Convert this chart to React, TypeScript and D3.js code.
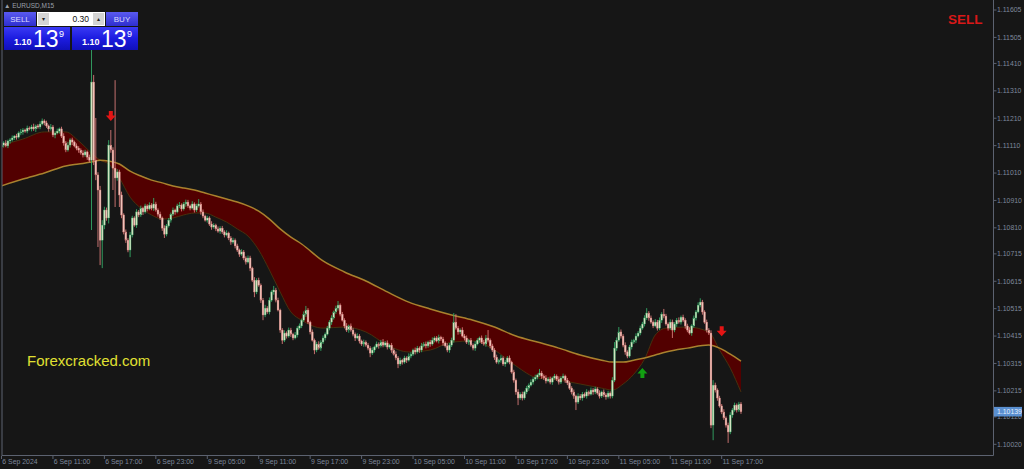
import React, { useEffect } from "react";
import * as d3 from "d3";

const W = 1024;
const H = 469;

// Close prices in points above 1.10000 (one value per M15 bar)
const closes = [
  1112, 1120, 1109, 1127, 1131, 1138, 1145, 1141, 1156, 1160,
  1167, 1163, 1174, 1171, 1178, 1171, 1182, 1178, 1189, 1200,
  1193, 1182, 1171, 1178, 1149, 1156, 1163, 1171, 1145, 1120,
  1094, 1112, 1131, 1123, 1109, 1101, 1094, 1083, 1076, 1087,
  1068, 1057, 1342, 1057, 1003, 948, 765, 820, 875, 846,
  1112, 1094, 1028, 992, 1014, 930, 857, 795, 765, 729,
  784, 846, 820, 868, 857, 882, 868, 890, 879, 893,
  882, 897, 875, 860, 846, 809, 787, 817, 838, 860,
  875, 868, 890, 893, 879, 897, 904, 890, 882, 897,
  875, 890, 897, 868, 853, 838, 846, 824, 813, 820,
  806, 798, 809, 795, 784, 791, 773, 758, 765, 744,
  729, 714, 722, 700, 685, 700, 663, 619, 576, 619,
  601, 546, 492, 517, 503, 546, 576, 583, 546, 510,
  437, 400, 426, 415, 437, 422, 408, 419, 444, 452,
  473, 495, 510, 466, 430, 400, 364, 386, 371, 393,
  408, 422, 444, 466, 481, 503, 517, 528, 495, 473,
  452, 437, 452, 437, 422, 408, 415, 397, 386, 393,
  382, 371, 353, 364, 375, 386, 379, 393, 382, 390,
  375, 382, 364, 349, 335, 313, 327, 320, 335, 327,
  342, 349, 364, 357, 371, 364, 379, 386, 379, 393,
  386, 400, 408, 397, 411, 404, 390, 379, 364, 382,
  400, 466, 444, 430, 437, 415, 408, 393, 400, 382,
  371, 386, 400, 408, 393, 386, 408, 400, 379, 364,
  338, 320, 327, 335, 313, 320, 335, 320, 284, 254,
  211, 189, 203, 189, 211, 225, 236, 247, 258, 265,
  273, 280, 269, 262, 251, 258, 247, 262, 269, 258,
  247, 262, 269, 254, 244, 225, 211, 196, 174, 196,
  189, 203, 196, 211, 203, 218, 211, 222, 207, 196,
  211, 200, 193, 207, 196, 254, 371, 400, 430, 415,
  382, 357, 342, 375, 393, 400, 415, 426, 444, 459,
  481, 499, 481, 466, 452, 466, 444, 473, 495, 488,
  459, 444, 466, 437, 459, 473, 466, 484, 473, 452,
  437, 426, 452, 481, 503, 528, 539, 503, 466, 437,
  426, 90, 236, 218, 189, 160, 138, 116, 90, 65,
  127, 145, 163, 145, 167, 139,
];
const firstOpen = 1105;

// Upper / lower wick lengths in points
const wickUp = [
  8, 6, 10, 5, 7, 9, 4, 8, 6, 11,
  7, 5, 9, 6, 8, 12, 5, 7, 10, 9,
  6, 8, 5, 11, 7, 6, 9, 5, 8, 10,
  7, 12, 6, 8, 5, 9, 7, 6, 10, 8,
  5, 9, 124, 26, 154, 10, 15, 18, 12, 9,
  18, 55, 10, 321, 10, 8, 12, 6, 9, 7,
  11, 8, 6, 10, 7, 9, 5, 8, 6, 10,
  7, 22, 8, 6, 9, 5, 10, 7, 8, 6,
  9, 5, 8, 11, 6, 7, 9, 8, 5, 10,
  6, 8, 18, 7, 9, 5, 8, 6, 10, 7,
  5, 9, 7, 8, 6, 10, 5, 7, 9, 6,
  8, 5, 10, 7, 6, 9, 8, 5, 11, 7,
  9, 6, 8, 12, 7, 10, 6, 15, 8, 9,
  5, 7, 10, 6, 9, 8, 5, 11, 7, 9,
  6, 10, 15, 7, 5, 9, 6, 8, 10, 7,
  9, 6, 8, 7, 10, 5, 9, 15, 6, 8,
  7, 10, 5, 9, 8, 6, 10, 7, 5, 9,
  6, 8, 7, 10, 5, 9, 6, 8, 11, 7,
  9, 5, 8, 6, 10, 7, 9, 5, 8, 6,
  10, 7, 5, 9, 8, 6, 11, 7, 9, 5,
  8, 10, 6, 7, 9, 5, 8, 6, 10, 7,
  9, 33, 29, 8, 6, 10, 7, 9, 5, 8,
  6, 10, 7, 5, 9, 8, 11, 29, 6, 8,
  7, 9, 5, 10, 6, 8, 7, 9, 5, 8,
  6, 10, 7, 9, 5, 8, 6, 10, 7, 9,
  5, 15, 8, 6, 10, 7, 9, 5, 8, 6,
  10, 7, 9, 5, 8, 6, 7, 9, 5, 10,
  7, 8, 6, 10, 5, 9, 7, 8, 6, 10,
  5, 9, 7, 8, 6, 11, 22, 10, 18, 9,
  7, 10, 6, 8, 9, 5, 10, 7, 9, 8,
  10, 18, 7, 9, 6, 11, 8, 10, 7, 19,
  8, 6, 10, 9, 7, 8, 10, 6, 9, 7,
  8, 10, 6, 9, 7, 10, 14, 8, 6, 9,
  7, 10, 18, 9, 6, 8, 7, 10, 6, 9,
  10, 7, 9, 6, 8, 7,
];
const wickDn = [
  6, 9, 5, 8, 10, 6, 7, 9, 5, 8,
  10, 6, 8, 5, 9, 7, 11, 6, 8, 5,
  9, 7, 10, 6, 8, 12, 5, 9, 7, 10,
  8, 6, 9, 11, 5, 8, 10, 6, 9, 7,
  10, 8, 255, 18, 19, 208, 91, 102, 15, 10,
  20, 10, 80, 106, 10, 44, 12, 9, 10, 8,
  26, 9, 6, 10, 8, 7, 11, 6, 9, 5,
  8, 10, 6, 9, 7, 10, 14, 8, 6, 9,
  7, 10, 5, 8, 9, 6, 10, 7, 8, 5,
  9, 7, 6, 10, 8, 5, 9, 7, 10, 6,
  8, 6, 10, 7, 9, 5, 8, 10, 6, 9,
  7, 10, 6, 8, 9, 5, 11, 7, 19, 8,
  6, 10, 19, 8, 7, 9, 6, 10, 8, 5,
  10, 14, 7, 9, 6, 10, 8, 5, 9, 7,
  8, 6, 10, 7, 9, 5, 15, 8, 6, 10,
  7, 9, 5, 8, 10, 6, 7, 9, 8, 5,
  9, 7, 10, 6, 8, 11, 5, 9, 7, 10,
  6, 8, 15, 7, 9, 5, 10, 6, 8, 7,
  9, 6, 10, 5, 8, 15, 7, 9, 6, 10,
  5, 8, 7, 9, 6, 10, 8, 5, 9, 7,
  10, 6, 8, 5, 9, 7, 11, 6, 8, 10,
  7, 9, 6, 10, 8, 5, 9, 7, 10, 6,
  8, 10, 5, 9, 7, 6, 10, 8, 9, 7,
  10, 6, 8, 9, 7, 10, 5, 8, 6, 9,
  10, 26, 7, 9, 6, 8, 10, 5, 9, 7,
  8, 6, 10, 7, 9, 5, 8, 10, 6, 7,
  9, 7, 5, 10, 8, 6, 9, 10, 29, 7,
  8, 10, 6, 9, 7, 5, 10, 8, 6, 9,
  7, 8, 10, 6, 9, 8, 7, 10, 6, 9,
  8, 10, 8, 6, 9, 7, 10, 5, 8, 6,
  9, 7, 10, 6, 8, 5, 9, 7, 10, 8,
  6, 9, 7, 29, 8, 10, 6, 9, 7, 10,
  8, 6, 10, 7, 9, 5, 8, 10, 6, 9,
  7, 11, 55, 9, 10, 6, 8, 7, 9, 40,
  8, 10, 6, 9, 7, 8,
];

// Moving averages (points above 1.10000) read at these bar indices
const maIdx = [0, 10, 20, 30, 36, 42, 46, 50, 55, 60, 65, 70, 75, 80, 85, 90, 95, 100, 105, 110, 115, 120, 125, 130, 135, 140, 150, 160, 170, 180, 190, 200, 210, 220, 230, 240, 250, 260, 270, 280, 285, 290, 295, 300, 305, 310, 320, 330, 335, 340, 345];
const slowMA = [963, 988, 1010, 1036, 1043, 1050, 1057, 1054, 1043, 1017, 999, 984, 974, 963, 955, 948, 937, 926, 915, 904, 890, 871, 842, 806, 776, 751, 689, 649, 616, 576, 539, 514, 492, 473, 448, 415, 393, 371, 346, 327, 320, 320, 327, 335, 346, 357, 371, 382, 371, 349, 324];
const fastMA = [1112, 1134, 1160, 1160, 1127, 1083, 1057, 1043, 992, 922, 882, 857, 842, 846, 857, 864, 864, 849, 831, 806, 780, 729, 656, 576, 503, 473, 444, 448, 430, 382, 357, 364, 393, 397, 364, 306, 262, 254, 240, 225, 218, 240, 276, 331, 419, 444, 448, 430, 364, 298, 211];

const yTickLabels = ["1.11605", "1.11505", "1.11410", "1.11310", "1.11210", "1.11110", "1.11010", "1.10910", "1.10810", "1.10715", "1.10615", "1.10515", "1.10415", "1.10315", "1.10215", "1.10120", "1.10020"];
const timeTickIdx = [0, 24, 48, 72, 96, 120, 144, 168, 192, 216, 240, 264, 288, 312, 336];
const timeTickLabels = ["6 Sep 2024", "6 Sep 11:00", "6 Sep 17:00", "6 Sep 23:00", "9 Sep 05:00", "9 Sep 11:00", "9 Sep 17:00", "9 Sep 23:00", "10 Sep 05:00", "10 Sep 11:00", "10 Sep 17:00", "10 Sep 23:00", "11 Sep 05:00", "11 Sep 11:00", "11 Sep 17:00"];

const signalIdx = [51, 299, 336];
const signalPts = [1218, 280, 433];
const signalDir = ["down", "up", "down"];

const lastPriceLabel = "1.10139";
const symbolLabel = "EURUSD,M15";
const lotLabel = "0.30";

const toPrice = (v: number) => 1.1 + v / 100000;

const FONT = "'Liberation Sans', Arial, sans-serif";

export default function App() {
  useEffect(() => {
    document.body.style.margin = "0";
    document.body.style.background = "#161616";
  }, []);

  const x = d3.scaleLinear().domain([0, 336]).range([1.5, 721.7]);
  const y = d3.scaleLinear().domain([1.1002, 1.11605]).range([444.3, 10]);

  const bars = closes.map((c, i) => {
    const o = i === 0 ? firstOpen : closes[i - 1];
    const hi = Math.max(o, c) + wickUp[i];
    const lo = Math.min(o, c) - wickDn[i];
    return { i, o, c, hi, lo, up: c >= o };
  });

  const band = d3
    .area<number>()
    .x((k) => x(maIdx[k]))
    .y0((k) => y(toPrice(slowMA[k])))
    .y1((k) => y(toPrice(fastMA[k])))
    .curve(d3.curveMonotoneX);
  const slowLine = d3
    .line<number>()
    .x((k) => x(maIdx[k]))
    .y((k) => y(toPrice(slowMA[k])))
    .curve(d3.curveMonotoneX);
  const fastLine = d3
    .line<number>()
    .x((k) => x(maIdx[k]))
    .y((k) => y(toPrice(fastMA[k])))
    .curve(d3.curveMonotoneX);
  const ks = maIdx.map((_, k) => k);

  const arrowDown = "M-2,-5 L2,-5 L2,-0.5 L5,-0.5 L0,5 L-5,-0.5 L-2,-0.5 Z";
  const arrowUp = "M-2,5 L2,5 L2,0.5 L5,0.5 L0,-5 L-5,0.5 L-2,0.5 Z";

  const lastY = y(toPrice(closes[closes.length - 1]));

  return (
    <svg
      width={W}
      height={H}
      style={{ position: "fixed", left: 0, top: 0, display: "block", background: "#161616" }}
      fontFamily={FONT}
    >
      <defs>
        <clipPath id="plot">
          <rect x={2} y={0} width={991} height={455} />
        </clipPath>
        <linearGradient id="btn" x1="0" y1="0" x2="0" y2="1">
          <stop offset="0" stopColor="#5a5af0" />
          <stop offset="1" stopColor="#2e2ed0" />
        </linearGradient>
        <linearGradient id="pbox" x1="0" y1="0" x2="0" y2="1">
          <stop offset="0" stopColor="#3a3af4" />
          <stop offset="0.5" stopColor="#1c1ce0" />
          <stop offset="1" stopColor="#1010b8" />
        </linearGradient>
      </defs>
      <rect x={0} y={0} width={W} height={H} fill="#161616" />

      <g clipPath="url(#plot)">
        <path d={band(ks) || ""} fill="#520000" />
        <path d={fastLine(ks) || ""} fill="none" stroke="#47300e" strokeWidth={1} />
        <path d={slowLine(ks) || ""} fill="none" stroke="#a9822e" strokeWidth={1.5} />

        {bars.map((b) => {
          const cx = x(b.i);
          const yo = y(toPrice(b.o));
          const yc = y(toPrice(b.c));
          const top = Math.min(yo, yc);
          const h = Math.max(Math.abs(yo - yc), 0.8);
          const wick = b.up ? "#34a866" : "#d67a78";
          const body = b.up ? "#d0e4c0" : "#f0c4ba";
          return (
            <g key={b.i}>
              <line
                x1={cx}
                x2={cx}
                y1={y(toPrice(b.hi))}
                y2={y(toPrice(b.lo))}
                stroke={wick}
                strokeWidth={0.9}
              />
              <rect x={cx - 0.9} y={top} width={1.8} height={h} fill={body} stroke={wick} strokeWidth={0.35} />
            </g>
          );
        })}

        {signalIdx.map((si, k) => (
          <path
            key={k}
            d={signalDir[k] === "down" ? arrowDown : arrowUp}
            transform={`translate(${x(si)},${y(toPrice(signalPts[k]))})`}
            fill={signalDir[k] === "down" ? "#e41414" : "#12a012"}
          />
        ))}
      </g>

      {/* frame */}
      <line x1={2} x2={2} y1={0} y2={455} stroke="#5c6270" strokeWidth={1} />
      <line x1={2} x2={993.5} y1={455.5} y2={455.5} stroke="#5c6270" strokeWidth={1} />
      <line x1={993.5} x2={993.5} y1={0} y2={455.5} stroke="#5c6270" strokeWidth={1} />

      {/* price axis */}
      {yTickLabels.map((t) => {
        const ty = y(parseFloat(t));
        return (
          <g key={t}>
            <line x1={993.5} x2={996.5} y1={ty} y2={ty} stroke="#5c6270" strokeWidth={1} />
            <text x={997} y={ty} dy="0.35em" fontSize={6.9} fill="#7e889c">
              {t}
            </text>
          </g>
        );
      })}
      <rect x={994} y={lastY - 4.8} width={28} height={9.6} fill="#5a8fd0" />
      <text x={997} y={lastY} dy="0.35em" fontSize={6.9} fill="#e6eefc">
        {lastPriceLabel}
      </text>

      {/* time axis */}
      {timeTickIdx.map((ti, k) => {
        const tx = x(ti);
        return (
          <g key={ti}>
            <line x1={tx} x2={tx} y1={455.5} y2={459} stroke="#5c6270" strokeWidth={1} />
            <text x={tx + 0.8} y={463.8} fontSize={6.9} fill="#7e889c">
              {timeTickLabels[k]}
            </text>
          </g>
        );
      })}

      {/* trade panel */}
      <text x={4} y={7.5} fontSize={6.5} fill="#9aa0aa">
        {"\u25B2 " + symbolLabel}
      </text>
      <rect x={4} y={12} width={32} height={14} fill="url(#btn)" />
      <text x={20} y={21.8} fontSize={8} fill="#dcdcff" textAnchor="middle">
        SELL
      </text>
      <rect x={37} y={12} width={68} height={14} fill="#ffffff" />
      <rect x={38} y={13} width={11} height={12} fill="#d4d4d4" />
      <text x={43.5} y={21} fontSize={6} fill="#222" textAnchor="middle">
        {"\u25BE"}
      </text>
      <rect x={93} y={13} width={11} height={12} fill="#d4d4d4" />
      <text x={98.5} y={21} fontSize={6} fill="#222" textAnchor="middle">
        {"\u25B4"}
      </text>
      <text x={89} y={22} fontSize={8.5} fill="#111" textAnchor="end">
        {lotLabel}
      </text>
      <rect x={106} y={12} width={32} height={14} fill="url(#btn)" />
      <text x={122} y={21.8} fontSize={8} fill="#dcdcff" textAnchor="middle">
        BUY
      </text>
      <rect x={4} y={27} width={66} height={23} fill="url(#pbox)" />
      <rect x={72} y={27} width={66} height={23} fill="url(#pbox)" />
      {[0, 68].map((dx) => (
        <g key={dx} fill="#ffffff">
          <text x={14 + dx} y={45} fontSize={9} fontWeight="bold">
            1.10
          </text>
          <text x={33 + dx} y={47} fontSize={23}>
            13
          </text>
          <text x={59 + dx} y={37} fontSize={9}>
            9
          </text>
        </g>
      ))}

      <text x={948} y={24} fontSize={13.5} fontWeight="bold" fill="#d81818">
        SELL
      </text>
      <text x={27} y={366} fontSize={15} fill="#e0e032">
        Forexcracked.com
      </text>
    </svg>
  );
}
